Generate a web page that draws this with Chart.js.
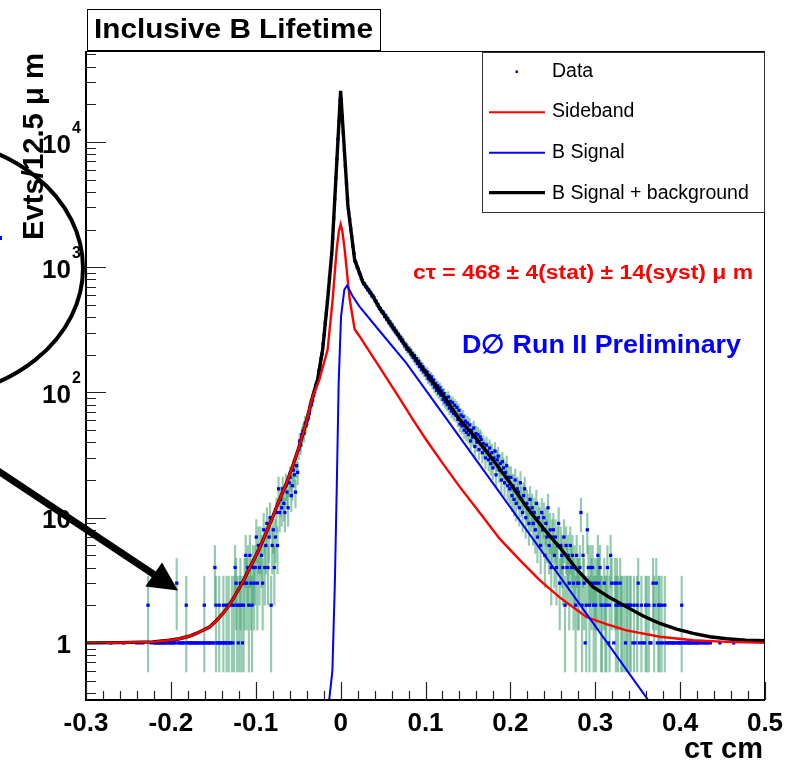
<!DOCTYPE html>
<html>
<head>
<meta charset="utf-8">
<script src="https://cdn.jsdelivr.net/npm/chart.js@4.4.0/dist/chart.umd.min.js"></script>
<style>
  html, body { margin: 0; padding: 0; background: #fff; }
  canvas { display: block; }
</style>
</head>
<body>
<canvas id="canvas" width="787" height="767" style="width:787px;height:767px"></canvas>
<script>
// c-tau histogram, 12.5 um bins from -0.3 cm to 0.5 cm
var BIN_START = -0.3;
var BIN_WIDTH = 0.00125;
var counts = [
  0,0,0,0,0,0,0,0,0,0,0,0,0,0,0,0,0,0,0,0,
  0,0,0,1,0,0,0,0,0,0,0,0,0,0,0,1,0,0,0,0,
  0,0,0,0,0,0,0,1,0,0,1,0,0,1,0,0,0,0,2,0,
  0,1,0,0,1,1,1,0,1,1,1,0,1,1,1,0,1,1,0,1,
  1,0,1,1,0,3,1,0,1,1,0,1,1,0,2,1,1,0,1,1,
  1,0,1,1,1,0,1,1,0,1,1,2,1,1,0,1,1,1,0,1,
  1,4,2,1,1,2,1,1,1,2,1,1,2,1,2,1,1,2,1,2,
  4,3,2,1,2,3,2,1,2,3,5,3,4,2,5,3,2,4,3,4,
  7,3,6,4,6,5,3,8,4,6,9,4,7,10,2,6,8,4,7,11,
  6,17,11,14,12,17,13,11,18,16,12,19,21,15,18,24,22,16,26,23,
  35,41,38,46,49,47,57,55,60,63,68,79,80,86,95,101,114,116,127,149,
  160,186,203,244,288,361,425,530,644,818,1003,1270,1698,2470,3520,5110,7320,10600,14750,21400,
  21800,16050,11900,8650,6450,4680,3490,2760,2410,2030,1760,1480,1290,1120,1080,1005,970,905,875,815,
  781,741,735,700,694,662,660,628,625,590,591,571,540,533,503,499,470,468,444,441,
  431,405,410,384,389,361,366,341,347,322,327,305,309,290,292,272,276,258,262,246,
  236,240,221,226,214,218,200,205,190,197,179,186,170,178,161,168,152,160,146,150,
  138,146,129,137,124,133,117,126,110,118,104,113,99,109,95,103,88,98,84,91,
  80,92,75,85,71,83,68,79,66,76,61,72,56,66,54,64,50,59,48,57,
  46,55,41,50,44,52,37,47,40,46,35,44,42,33,39,36,30,38,34,29,
  36,27,33,25,30,34,22,29,31,24,27,20,28,25,19,23,26,18,21,17,
  21,15,18,14,20,13,17,16,12,19,14,11,15,17,10,13,12,9,14,11,
  12,9,11,8,13,7,10,9,6,11,8,10,5,9,7,12,6,8,4,7,
  8,5,7,4,6,9,3,6,5,4,7,2,6,4,5,3,6,4,5,3,
  4,2,5,3,3,4,11,2,5,3,1,2,8,4,2,4,3,4,2,3,
  2,3,5,3,4,2,2,0,3,2,2,4,1,2,5,3,0,1,3,2,
  3,2,0,3,2,2,0,2,1,2,2,0,2,2,0,1,2,1,0,2,
  3,1,0,2,1,0,1,2,2,0,2,1,1,0,3,2,0,3,1,2,
  2,1,2,1,0,2,1,1,0,1,1,0,1,1,1,0,1,0,1,1,
  1,2,1,0,1,1,0,1,1,1,0,1,1,0,1,1,1,0,1,0,
  1,0,1,1,0,1,1,0,1,0,0,0,0,0,0,0,0,1,0,0,
  0,0,0,0,0,0,0,0,0,0,1,0,0,0,0,0,0,0,0,0,
  0,0,0,0,0,0,0,0,0,0,0,0,0,0,0,0,0,0,0,0
];

// fitted curves
var totalX = [-0.3,-0.26,-0.2213,-0.2021,-0.1899,-0.1785,-0.1702,-0.1623,-0.1545,-0.1466,-0.1387,-0.1309,-0.123,-0.1151,-0.1073,-0.0994,-0.0939,-0.088,-0.0805,
  -0.0723,-0.0644,-0.0566,-0.0487,-0.0408,-0.033,-0.0271,-0.0212,-0.0153,-0.0101,0,
  0.0086,0.0165,0.0263,0.0381,0.0457,0.0615,0.0772,0.1008,0.1244,0.1401,0.1597,0.1794,0.1991,0.2188,0.2384,0.2581,0.2778,0.2974,0.3171,0.3368,0.3565,0.3761,
  0.3958,0.4154,0.4351,0.4548,0.4774,0.5];
var totalY = [1.0,1.005,1.02,1.05,1.08,1.13,1.19,1.26,1.34,1.5,1.72,2.02,2.48,3.08,3.94,5.03,6.05,7.5,9.9,
  13.8,18.4,25.6,37.2,56.9,92.9,126,220,552,1383,25600,
  3076,1150,760,586,474,331,233,143,87.5,61,43,29,19.2,12.2,8.3,5.8,3.9,2.8,2.3,1.94,1.64,1.43,
  1.29,1.19,1.12,1.08,1.05,1.04];

var sideX = [-0.3,-0.26,-0.2213,-0.2021,-0.1899,-0.1785,-0.1702,-0.1623,-0.1545,-0.1466,-0.1387,-0.1309,-0.123,-0.1151,-0.1073,-0.0994,-0.0939,-0.088,-0.0805,
  -0.0723,-0.0644,-0.0566,-0.0487,-0.0408,-0.033,-0.0251,-0.0153,-0.0094,-0.0047,-0.002,0,0.002,
  0.0047,0.0106,0.0165,0.0224,0.0342,0.0457,0.0693,0.085,0.1008,0.1205,0.1401,0.1637,0.1873,0.2109,0.2345,0.2581,0.2896,0.3132,0.3368,0.3761,0.415,0.4548,0.5];
var sideY = [1.0,1.005,1.02,1.05,1.08,1.13,1.19,1.26,1.34,1.5,1.72,2.02,2.48,3.08,3.94,5.03,6.05,7.5,9.9,
  13.8,18.4,25.6,37.2,56.9,92.9,126,220,552,1383,1950,2200,1950,
  1400,560,320,280,211,160,90,61,41.9,27,17.7,11,6.8,4.6,3.17,2.31,1.61,1.41,1.26,1.12,1.05,1.02,1.0];

var sigX = [-0.0145,-0.0097,-0.0068,-0.0044,-0.0023,0.0005,0.0044,0.0076,0.0142,0.0221,0.0457,0.0772,0.2,0.37];
var sigY = [0.3,0.6,3,20,120,405,663,714,586,487,311,172,12.1,0.296];

var xTicks = [-0.3,-0.2,-0.1,0,0.1,0.2,0.3,0.4,0.5];
var xTickLabels = ['-0.3','-0.2','-0.1','0','0.1','0.2','0.3','0.4','0.5'];
var yTicks = [1,10,100,1000,10000];
var yTickBase = ['1','10','10','10','10'];
var yTickExp = ['','','2','3','4'];
var legendLabels = ['Data','Sideband','B Signal','B Signal + background'];
var legendColors = ['#0000ff','#ff0000','#0000ff','#000000'];

var FONT = '"Liberation Sans", Arial, Helvetica, sans-serif';

var dataPts = [], errBars = [];
for (var i = 0; i < counts.length; i++) {
  var n = counts[i];
  if (n <= 0) continue;
  var xc = BIN_START + (i + 0.5) * BIN_WIDTH;
  var e = Math.sqrt(n);
  dataPts.push({x: xc, y: n});
  errBars.push({x: xc, y: [Math.max(n - e, 0), n + e]});
}
function pairs(xs, ys) {
  return xs.map(function(x, k) { return {x: x, y: ys[k]}; });
}

function fitText(ctx, str, x, y, w, font) {
  ctx.save();
  ctx.font = font;
  var m = ctx.measureText(str).width;
  ctx.translate(x, y);
  ctx.scale(w / m, 1);
  ctx.textAlign = 'left';
  ctx.textBaseline = 'alphabetic';
  ctx.fillText(str, 0, 0);
  ctx.restore();
}

var rootStyle = {
  id: 'rootStyle',
  beforeDraw: function(chart) {
    var ctx = chart.ctx;
    ctx.save();
    ctx.fillStyle = '#fff';
    ctx.fillRect(0, 0, chart.width, chart.height);
    ctx.restore();
  },
  afterDraw: function(chart) {
    var ctx = chart.ctx, a = chart.chartArea;
    var xs = chart.scales.x, ys = chart.scales.y;
    ctx.save();

    // frame
    ctx.strokeStyle = '#000';
    ctx.lineWidth = 1;
    ctx.strokeRect(a.left + 0.5, a.top + 0.5, a.right - a.left - 1, a.bottom - a.top - 1);
    ctx.lineWidth = 2;
    ctx.beginPath();
    ctx.moveTo(a.left, a.top); ctx.lineTo(a.left, a.bottom); ctx.lineTo(a.right, a.bottom);
    ctx.stroke();

    // y ticks (log)
    ctx.lineWidth = 1.2;
    ctx.strokeStyle = '#222';
    ctx.beginPath();
    for (var d = -1; d <= 4; d++) {
      for (var m = 1; m <= 9; m++) {
        var v = m * Math.pow(10, d);
        if (v < ys.min || v > ys.max) continue;
        var py = Math.round(ys.getPixelForValue(v)) + 0.5;
        ctx.moveTo(a.left, py); ctx.lineTo(a.left + (m === 1 ? 20 : 10), py);
      }
    }
    // x ticks
    for (var k = 0; k <= 40; k++) {
      var xv = -0.3 + k * 0.02;
      var px = Math.round(xs.getPixelForValue(xv)) + 0.5;
      ctx.moveTo(px, a.bottom); ctx.lineTo(px, a.bottom - (k % 5 === 0 ? 18 : 9));
    }
    ctx.stroke();

    // tick labels
    ctx.fillStyle = '#000';
    ctx.textBaseline = 'alphabetic';
    ctx.font = 'bold 26px ' + FONT;
    ctx.textAlign = 'center';
    xTicks.forEach(function(t, j) {
      ctx.fillText(xTickLabels[j], xs.getPixelForValue(t), 730.5);
    });
    yTicks.forEach(function(t, j) {
      var py = ys.getPixelForValue(t);
      ctx.font = 'bold 26px ' + FONT;
      ctx.textAlign = 'right';
      ctx.fillText(yTickBase[j], 71, py + 10.5);
      if (yTickExp[j]) {
        ctx.font = 'bold 16px ' + FONT;
        ctx.textAlign = 'left';
        ctx.fillText(yTickExp[j], 72, py - 9);
      }
    });

    // axis titles
    ctx.font = 'bold 29px ' + FONT;
    ctx.textAlign = 'right';
    ctx.fillText('c\u03c4 cm', 763, 758);
    ctx.save();
    ctx.translate(43, 240);
    ctx.rotate(-Math.PI / 2);
    fitText(ctx, 'Evts/12.5 \u03bc m', 0, 0, 187, 'bold 30px ' + FONT);
    ctx.restore();

    // title box
    ctx.fillStyle = '#fff';
    ctx.fillRect(87, 9, 293, 41);
    ctx.strokeStyle = '#000';
    ctx.lineWidth = 1;
    ctx.strokeRect(87.5, 9.5, 293, 41);
    ctx.fillStyle = '#000';
    fitText(ctx, 'Inclusive B Lifetime', 94, 38.3, 279, 'bold 28px ' + FONT);

    // legend
    ctx.fillStyle = '#fff';
    ctx.fillRect(482, 52, 283, 161);
    ctx.strokeStyle = '#333';
    ctx.strokeRect(482.5, 52.5, 282, 160);
    var rows = [71.5, 112.3, 152.7, 192.7];
    var bases = [76.7, 116.7, 158.3, 199.3];
    var widths = [0, 2, 2, 3.2];
    legendLabels.forEach(function(lbl, j) {
      if (j === 0) {
        ctx.fillStyle = legendColors[0];
        ctx.fillRect(515.5, rows[0] - 1, 2.5, 2.5);
      } else {
        ctx.strokeStyle = legendColors[j];
        ctx.lineWidth = widths[j];
        ctx.beginPath();
        ctx.moveTo(489, rows[j]); ctx.lineTo(545, rows[j]);
        ctx.stroke();
      }
      ctx.fillStyle = '#000';
      ctx.font = '19.5px ' + FONT;
      ctx.textAlign = 'left';
      ctx.fillText(lbl, 552, bases[j]);
    });

    // annotations
    ctx.fillStyle = '#ff0000';
    fitText(ctx, 'c\u03c4 = 468 \u00b1 4(stat) \u00b1 14(syst) \u03bc m', 413, 279.3, 340, 'bold 20px ' + FONT);
    ctx.fillStyle = '#0000ff';
    fitText(ctx, 'D\u2205 Run II Preliminary', 462, 353.3, 279, 'bold 26px ' + FONT);

    // hand-drawn ellipse and arrow
    ctx.strokeStyle = '#000';
    ctx.lineWidth = 4;
    ctx.beginPath();
    ctx.ellipse(-80, 268, 163, 130, 0, 0, Math.PI * 2);
    ctx.stroke();
    ctx.lineWidth = 7;
    ctx.beginPath();
    ctx.moveTo(-4, 469.5); ctx.lineTo(154, 574.5);
    ctx.stroke();
    ctx.fillStyle = '#000';
    ctx.beginPath();
    ctx.moveTo(145.3, 586.5); ctx.lineTo(162, 562.5); ctx.lineTo(178, 590.5); ctx.closePath();
    ctx.fill();
    ctx.fillStyle = '#0000ff';
    ctx.fillRect(0, 236, 2, 4);

    ctx.restore();
  }
};

new Chart(document.getElementById('canvas').getContext('2d'), {
  type: 'line',
  data: {
    datasets: [
      {
        label: 'B Signal', data: pairs(sigX, sigY), borderColor: '#0000ff', borderWidth: 2,
        pointRadius: 0, fill: false, order: 0
      },
      {
        label: 'Sideband', data: pairs(sideX, sideY), borderColor: '#ff0000', borderWidth: 2.4,
        pointRadius: 0, fill: false, order: 1
      },
      {
        label: 'B Signal + background', data: pairs(totalX, totalY), borderColor: '#000000', borderWidth: 3.4,
        pointRadius: 0, fill: false, order: 2
      },
      {
        label: 'Data', data: dataPts, showLine: false, pointStyle: 'rect', pointRadius: 2.3,
        pointBackgroundColor: '#0000ff', pointBorderWidth: 0, borderColor: '#0000ff', order: 3
      },
      {
        type: 'bar', label: 'errors', data: errBars, backgroundColor: 'rgba(60,160,110,0.55)',
        borderWidth: 0, barThickness: 1.5, order: 4
      }
    ]
  },
  options: {
    responsive: false,
    animation: false,
    devicePixelRatio: 1,
    layout: { padding: { left: 86, right: 22, top: 51, bottom: 67 } },
    plugins: { legend: { display: false }, tooltip: { enabled: false }, title: { display: false } },
    scales: {
      x: { type: 'linear', min: -0.3, max: 0.5, offset: false, grid: { offset: false }, display: false },
      y: { type: 'logarithmic', min: 0.35, max: 53300, beginAtZero: false, display: false }
    }
  },
  plugins: [rootStyle]
});
</script>
</body>
</html>
